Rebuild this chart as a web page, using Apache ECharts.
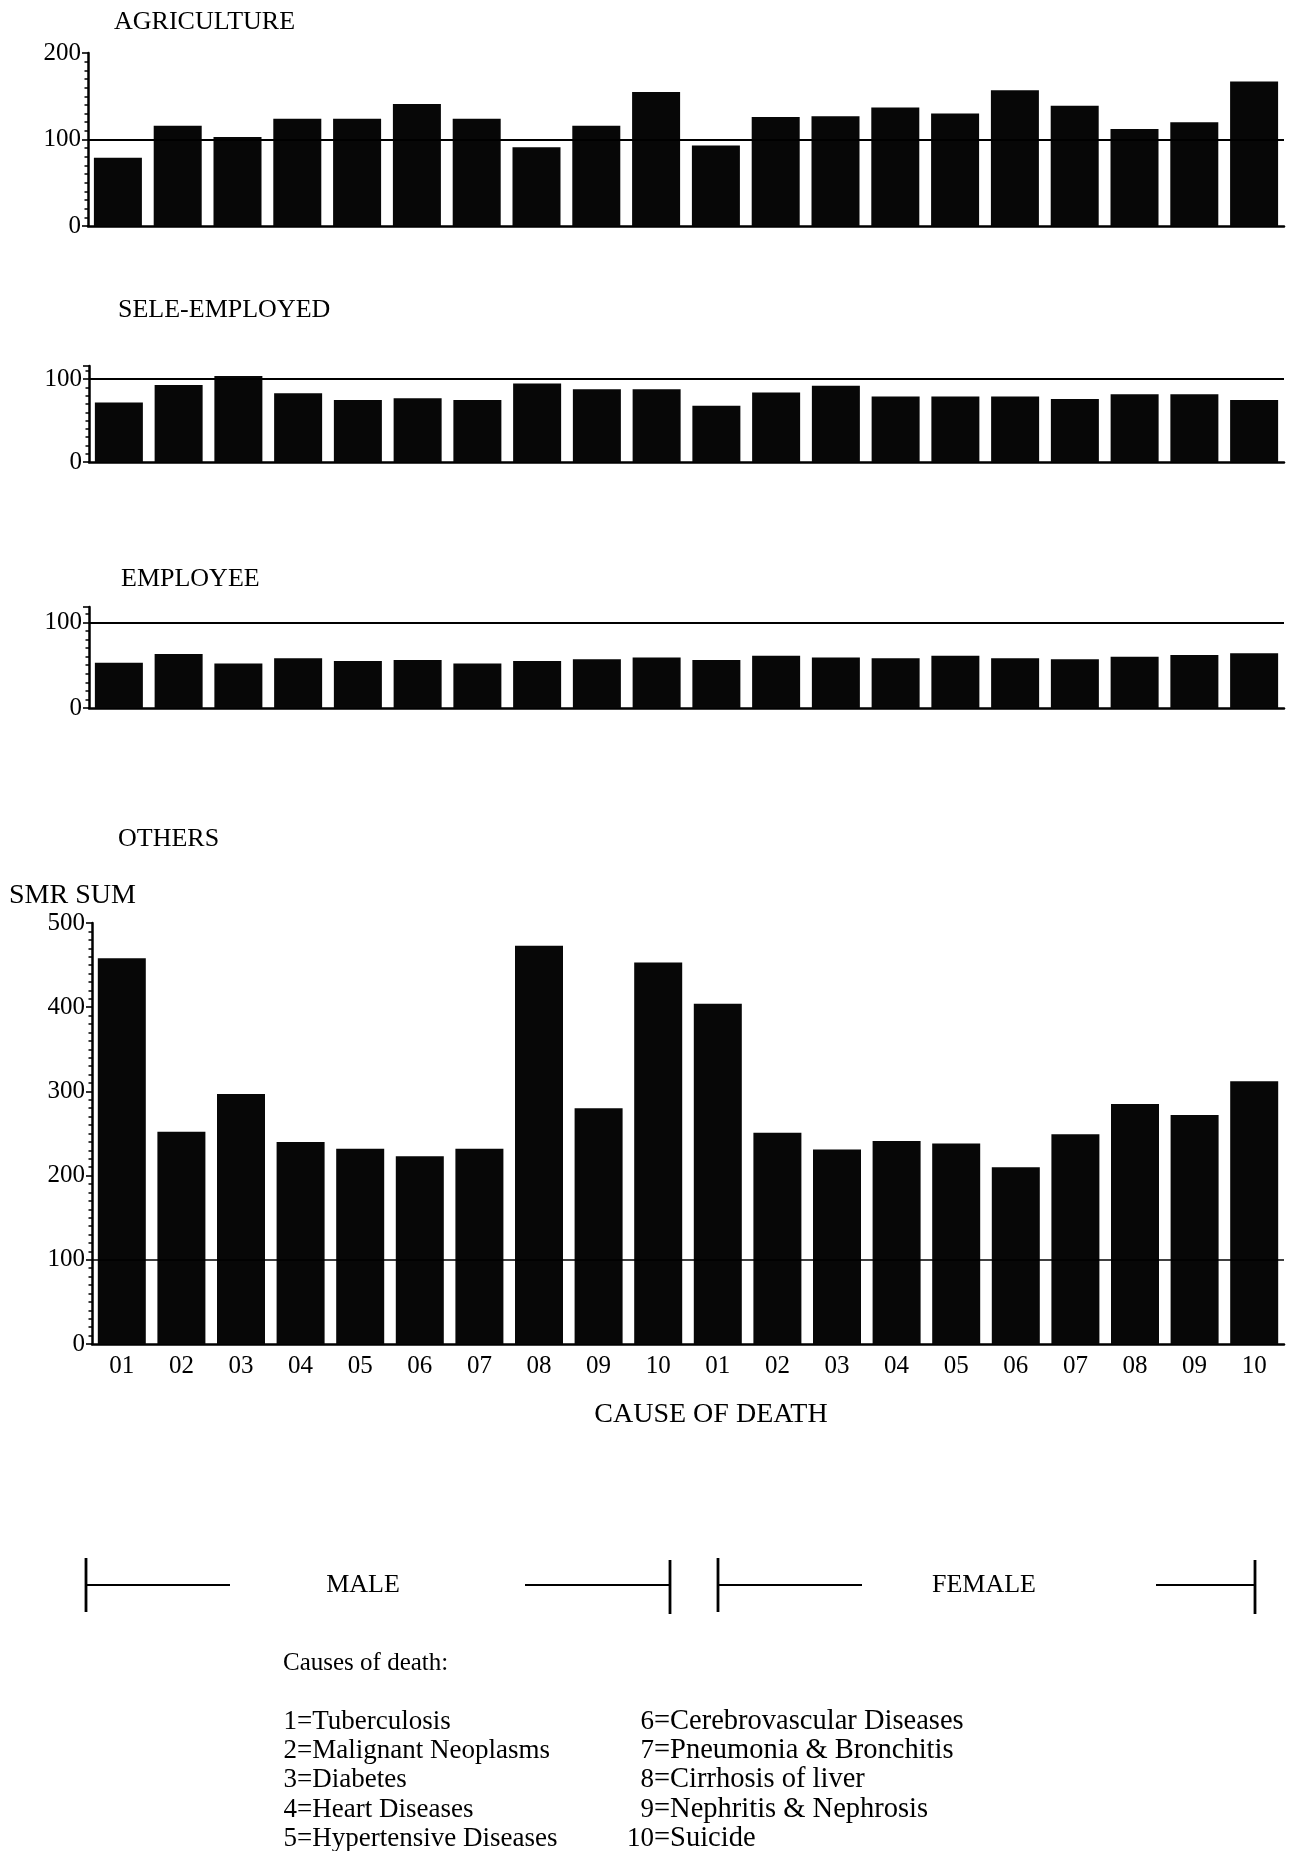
<!DOCTYPE html>
<html>
<head>
<meta charset="utf-8">
<script src="https://cdn.jsdelivr.net/npm/echarts@6/dist/echarts.min.js"></script>
<style>
  html, body { margin: 0; padding: 0; background: #ffffff; }
  #chart { width: 1290px; height: 1851px; }
</style>
</head>
<body>
<div id="chart"></div>
<script>
// Cause-of-death codes shown on the x axis, once for each sex
const causeCodes = ['01', '02', '03', '04', '05', '06', '07', '08', '09', '10'];
const sexGroups = ['MALE', 'FEMALE'];

// SMR values by occupation group (cause 01..10)
const agricultureMale   = [79, 116, 103, 124, 124, 141, 124, 91, 116, 155];
const agricultureFemale = [93, 126, 127, 137, 130, 157, 139, 112, 120, 167];

const selfEmployedMale   = [72, 93, 104, 83, 75, 77, 75, 95, 88, 88];
const selfEmployedFemale = [68, 84, 92, 79, 79, 79, 76, 82, 82, 75];

const employeeMale   = [53, 63, 52, 58, 55, 56, 52, 55, 57, 59];
const employeeFemale = [56, 61, 59, 58, 61, 58, 57, 60, 62, 64];

const othersMale   = [458, 252, 297, 240, 232, 223, 232, 473, 280, 453];
const othersFemale = [404, 251, 231, 241, 238, 210, 249, 285, 272, 312];

// Text
const panelTitles = ['AGRICULTURE', 'SELE-EMPLOYED', 'EMPLOYEE', 'OTHERS'];
const yAxisTitle = 'SMR SUM';
const xAxisTitle = 'CAUSE OF DEATH';
const keyHeading = 'Causes of death:';
const causeNames = [
  'Tuberculosis', 'Malignant Neoplasms', 'Diabetes', 'Heart Diseases', 'Hypertensive Diseases',
  'Cerebrovascular Diseases', 'Pneumonia & Bronchitis', 'Cirrhosis of liver', 'Nephritis & Nephrosis', 'Suicide'
];
const referenceSMR = 100;
const tickStep = 100;

// ---------------------------------------------------------------------------
const serif = '"Liberation Serif", "DejaVu Serif", serif';
const ink = '#000000';
const barInk = '#070707';

// One category per sex/cause pair; the leading letter keeps the keys unique
const categories = [];
sexGroups.forEach(function (s) {
  causeCodes.forEach(function (c) { categories.push(s.charAt(0) + c); });
});

const panels = [
  { title: panelTitles[0], male: agricultureMale,   female: agricultureFemale,   max: 200, left: 88, top: 53,  height: 173, tx: 114, ty: 23 },
  { title: panelTitles[1], male: selfEmployedMale,  female: selfEmployedFemale,  max: 116, left: 89, top: 366, height: 96,  tx: 118, ty: 311 },
  { title: panelTitles[2], male: employeeMale,      female: employeeFemale,      max: 118, left: 89, top: 607, height: 101, tx: 121, ty: 580 },
  { title: panelTitles[3], male: othersMale,        female: othersFemale,        max: 500, left: 92, top: 923, height: 421, tx: 118, ty: 840 }
];

const grids = [], xAxes = [], yAxes = [], series = [], graphics = [];

panels.forEach(function (p, i) {
  const last = i === panels.length - 1;
  grids.push({ left: p.left, right: 6, top: p.top, height: p.height, containLabel: false });

  xAxes.push({
    type: 'category',
    gridIndex: i,
    data: categories,
    boundaryGap: true,
    axisLine: { show: true, onZero: true, lineStyle: { color: ink, width: 2.5 } },
    axisTick: { show: false },
    splitLine: { show: false },
    axisLabel: {
      show: last,
      interval: 0,
      margin: 10,
      color: ink,
      fontFamily: serif,
      fontSize: 25,
      formatter: function (v) { return v.slice(1); }
    }
  });

  yAxes.push({
    type: 'value',
    gridIndex: i,
    min: 0,
    max: p.max,
    interval: tickStep,
    axisLine: { show: true, lineStyle: { color: ink, width: 2.5 } },
    axisTick: { show: true, inside: false, length: 6, lineStyle: { color: ink, width: 1.6 } },
    minorTick: { show: true, splitNumber: 10, length: 3.5, lineStyle: { color: ink, width: 1.5 } },
    splitLine: { show: false },
    minorSplitLine: { show: false },
    axisLabel: {
      margin: 7,
      color: ink,
      fontFamily: serif,
      fontSize: 25,
      formatter: function (v) { return v % tickStep === 0 ? String(v) : ''; }
    }
  });

  series.push({
    type: 'bar',
    xAxisIndex: i,
    yAxisIndex: i,
    data: p.male.concat(p.female),
    barWidth: 48,
    itemStyle: { color: barInk },
    silent: true,
    markLine: {
      silent: true,
      symbol: 'none',
      label: { show: false },
      lineStyle: { color: ink, width: last ? 1.5 : 2, type: 'solid' },
      data: [{ yAxis: referenceSMR }]
    }
  });

  graphics.push({
    type: 'text', left: p.tx, top: p.ty - 14,
    style: { text: p.title, font: '26px ' + serif, fill: ink }
  });
});

// Axis titles
graphics.push({ type: 'text', left: 9, top: 882, style: { text: yAxisTitle, font: '28px ' + serif, fill: ink } });
graphics.push({
  type: 'text', x: 711, y: 1415,
  style: { text: xAxisTitle, font: '28px ' + serif, fill: ink, textAlign: 'center', textVerticalAlign: 'middle' }
});

// MALE / FEMALE span brackets under the axis
function bracket(x0, x1, innerL, innerR, label, labelX) {
  const yc = 1585;
  const lw = 2.8;
  graphics.push({ type: 'line', shape: { x1: x0, y1: yc - 27, x2: x0, y2: yc + 27 }, style: { stroke: ink, lineWidth: lw } });
  graphics.push({ type: 'line', shape: { x1: x1, y1: yc - 25, x2: x1, y2: yc + 29 }, style: { stroke: ink, lineWidth: lw } });
  graphics.push({ type: 'line', shape: { x1: x0, y1: yc, x2: innerL, y2: yc }, style: { stroke: ink, lineWidth: 2.2 } });
  graphics.push({ type: 'line', shape: { x1: innerR, y1: yc, x2: x1, y2: yc }, style: { stroke: ink, lineWidth: 2.2 } });
  graphics.push({
    type: 'text', x: labelX, y: yc,
    style: { text: label, font: '26px ' + serif, fill: ink, textAlign: 'center', textVerticalAlign: 'middle' }
  });
}
bracket(86, 670, 230, 525, sexGroups[0], 363);
bracket(718, 1255, 862, 1156, sexGroups[1], 984);

// Key of cause codes
graphics.push({ type: 'text', left: 283, top: 1651, style: { text: keyHeading, font: '25px ' + serif, fill: ink } });
const rowY = [1722, 1751, 1780, 1810, 1839];
causeNames.forEach(function (name, k) {
  const col = k < 5 ? 0 : 1;
  const xr = col === 0 ? 297 : 654;
  const y = rowY[k % 5];
  graphics.push({
    type: 'text', x: xr, y: y,
    style: { text: String(k + 1), font: '27px ' + serif, fill: ink, textAlign: 'right', textVerticalAlign: 'middle' }
  });
  graphics.push({
    type: 'text', x: xr, y: y,
    style: { text: '=' + name, font: (col === 0 ? '27px ' : '28.5px ') + serif, fill: ink, textAlign: 'left', textVerticalAlign: 'middle' }
  });
});

const chart = echarts.init(document.getElementById('chart'), null, { renderer: 'canvas', width: 1290, height: 1851 });
chart.setOption({
  backgroundColor: '#ffffff',
  animation: false,
  grid: grids,
  xAxis: xAxes,
  yAxis: yAxes,
  series: series,
  graphic: graphics
});
</script>
</body>
</html>
